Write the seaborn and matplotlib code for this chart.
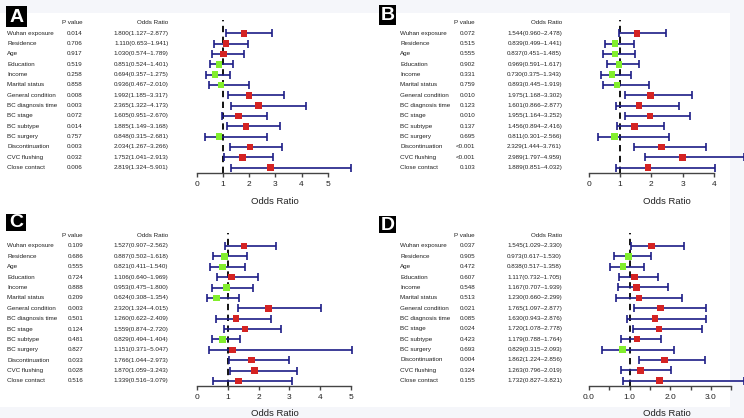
import numpy as np
import pandas as pd
import matplotlib
matplotlib.use("Agg")
import matplotlib.pyplot as plt
import seaborn as sns
from matplotlib.patches import Rectangle

sns.set_style("white")
plt.rcParams['font.family'] = ['Liberation Sans', 'DejaVu Sans']

variables = ["Wuhan exposure", "Residence", "Age", "Education", "Income",
             "Marital status", "General condition", "BC diagnosis time",
             "BC stage", "BC subtype", "BC surgery", "Discontinuation",
             "CVC flushing", "Close contact"]

# panel A
p_a = ["0.014", "0.706", "0.917", "0.519", "0.258", "0.858", "0.008",
       "0.003", "0.072", "0.014", "0.757", "0.003", "0.032", "0.006"]
or_a = [1.800, 1.110, 1.030, 0.851, 0.694, 0.936, 1.992, 2.365, 1.605, 1.885, 0.848, 2.034, 1.752, 2.819]
lo_a = [1.127, 0.653, 0.574, 0.524, 0.357, 0.467, 1.185, 1.322, 0.951, 1.149, 0.315, 1.267, 1.041, 1.324]
hi_a = [2.877, 1.941, 1.789, 1.401, 1.275, 2.010, 3.317, 4.173, 2.670, 3.168, 2.681, 3.266, 2.913, 5.901]

# panel B
p_b = ["0.072", "0.515", "0.555", "0.902", "0.331", "0.759", "0.010",
       "0.123", "0.010", "0.137", "0.695", "<0.001", "<0.001", "0.103"]
or_b = [1.544, 0.839, 0.837, 0.969, 0.730, 0.893, 1.975, 1.601, 1.955, 1.456, 0.811, 2.329, 2.989, 1.889]
lo_b = [0.960, 0.499, 0.451, 0.591, 0.375, 0.445, 1.168, 0.866, 1.164, 0.894, 0.301, 1.444, 1.797, 0.851]
hi_b = [2.478, 1.441, 1.485, 1.617, 1.343, 1.919, 3.302, 2.877, 3.252, 2.416, 2.566, 3.761, 4.959, 4.032]

# panel C
p_c = ["0.109", "0.686", "0.555", "0.724", "0.888", "0.209", "0.003",
       "0.501", "0.124", "0.481", "0.827", "0.033", "0.028", "0.516"]
or_c = [1.527, 0.887, 0.821, 1.106, 0.953, 0.624, 2.320, 1.260, 1.559, 0.829, 1.151, 1.766, 1.870, 1.339]
lo_c = [0.907, 0.502, 0.411, 0.640, 0.475, 0.308, 1.324, 0.622, 0.874, 0.494, 0.371, 1.044, 1.059, 0.516]
hi_c = [2.562, 1.618, 1.540, 1.969, 1.800, 1.354, 4.015, 2.409, 2.720, 1.404, 5.047, 2.973, 3.243, 3.079]

# panel D
p_d = ["0.037", "0.905", "0.472", "0.607", "0.548", "0.513", "0.021",
       "0.085", "0.024", "0.423", "0.693", "0.004", "0.324", "0.155"]
or_d = [1.545, 0.973, 0.838, 1.117, 1.167, 1.230, 1.765, 1.630, 1.720, 1.179, 0.829, 1.862, 1.263, 1.732]
lo_d = [1.029, 0.617, 0.517, 0.732, 0.707, 0.660, 1.097, 0.943, 1.078, 0.788, 0.315, 1.224, 0.796, 0.827]
hi_d = [2.330, 1.530, 1.358, 1.705, 1.939, 2.299, 2.877, 2.876, 2.778, 1.764, 2.093, 2.856, 2.019, 3.821]

NAVY = "#1d1d86"
RED = "#d42323"
GREEN = "#82ee2c"
TXT = "#222222"

W, H = 744, 418
fig = plt.figure(figsize=(W / 100, H / 100), dpi=100)
fig.patch.set_facecolor("#f5f6fa")
fig.patches.append(Rectangle((0, 1 - 407 / H), 730 / W, (407 - 13) / H,
                             transform=fig.transFigure, facecolor="white",
                             edgecolor="none", zorder=-10))


def fx(x):
    return x / W


def fy(y):
    return 1 - y / H


def panel(letter, box, name_x, p_right, or_right, head_y, row0, step,
          x0, unit, xmax, top_y, axis_y, xlab_x, xlab_y, ticks, ticklabels,
          pv, orv, lov, hiv):
    # letter box
    bx0, by0, bx1, by1 = box
    fig.patches.append(Rectangle((fx(bx0), fy(by1)), (bx1 - bx0) / W, (by1 - by0) / H,
                                 transform=fig.transFigure, facecolor="black",
                                 edgecolor="none"))
    fig.text(fx((bx0 + bx1) / 2), fy((by0 + by1) / 2 + 0.5), letter, color="white",
             fontsize=14, fontweight="bold", ha="center", va="center")
    fs = 4.5
    fig.text(fx(p_right), fy(head_y), "P value", fontsize=fs, ha="right", va="center", color=TXT)
    fig.text(fx(or_right), fy(head_y), "Odds Ratio", fontsize=fs, ha="right", va="center", color=TXT)
    for i, name in enumerate(variables):
        y = row0 + i * step
        fig.text(fx(name_x), fy(y), name, fontsize=fs, ha="left", va="center", color=TXT)
        fig.text(fx(p_right), fy(y), pv[i], fontsize=fs, ha="right", va="center", color=TXT)
        fig.text(fx(or_right), fy(y), "%.3f(%.3f\u2013%.3f)" % (orv[i], lov[i], hiv[i]),
                 fontsize=fs, ha="right", va="center", color=TXT)

    # forest
    ax = fig.add_axes([fx(x0), fy(axis_y), unit * xmax / W, (axis_y - top_y) / H])
    ax.set_facecolor("none")
    df = pd.DataFrame({"or": orv, "lo": lov, "hi": hiv, "row": np.arange(len(variables))})
    df["grp"] = np.where(df["or"] < 1, "low", "high")
    ylo = (axis_y - row0) / step
    yhi = (top_y - row0) / step
    ax.axvline(1, color="black", ls=(0, (3.5, 2.5)), lw=1.3, zorder=1)
    eb = ax.errorbar(df["or"], df["row"], xerr=[df["or"] - df["lo"], df["hi"] - df["or"]],
                     fmt="none", ecolor=NAVY, elinewidth=1.2, capsize=2.6, capthick=1.2, zorder=2)
    for art in list(eb.lines[1]) + list(eb.lines[2]):
        art.set_clip_on(False)
    sns.scatterplot(data=df, x="or", y="row", hue="grp", palette={"low": GREEN, "high": RED},
                    marker="s", s=22, linewidth=0, legend=False, zorder=3, ax=ax, clip_on=False)
    ax.set_xlim(0, xmax)
    ax.set_ylim(ylo, yhi)
    ax.set_yticks([])
    ax.set_ylabel("")
    ax.set_xlabel("")
    for s in ["left", "top", "right"]:
        ax.spines[s].set_visible(False)
    ax.spines["bottom"].set_bounds(0, xmax)
    ax.spines["bottom"].set_color("#444444")
    ax.spines["bottom"].set_linewidth(1.0)
    ax.set_xticks(ticks)
    ax.set_xticklabels(ticklabels)
    ax.tick_params(axis="x", direction="out", length=3, width=1.0, color="#444444",
                   labelsize=6, labelcolor=TXT, pad=2.5, bottom=True)
    fig.text(fx(xlab_x), fy(xlab_y), "Odds Ratio", fontsize=6.8,
             ha="center", va="center", color=TXT)
    return ax


panel("A", (6, 6.5, 27, 26.5), 7, 82.5, 168.5, 23, 33.3, 10.33,
      196.7, 26.2, 5, 20, 173.3, 274.7, 202,
      [0, 1, 2, 3, 4, 5], ["0", "1", "2", "3", "4", "5"],
      p_a, or_a, lo_a, hi_a)

panel("B", (379, 5, 395.5, 25), 400.3, 475, 562, 23, 33.3, 10.33,
      589, 31.2, 4, 20, 173.3, 666.7, 202,
      [0, 1, 2, 3, 4], ["0", "1", "2", "3", "4"],
      p_b, or_b, lo_b, hi_b)

panel("C", (6.5, 214, 26.5, 231), 7, 83, 168.5, 236, 246, 10.38,
      197.3, 30.7, 5, 233, 386, 275, 414,
      [0, 1, 2, 3, 4, 5], ["0", "1", "2", "3", "4", "5"],
      p_c, or_c, lo_c, hi_c)

panel("D", (379, 216, 395.5, 233), 400.3, 475, 562, 236, 246, 10.36,
      589, 40.6, 3.5, 233, 386, 666.7, 413,
      [0, 0.5, 1, 1.5, 2, 2.5, 3, 3.5], ["0.0", "", "1.0", "", "2.0", "", "3.0", ""],
      p_d, or_d, lo_d, hi_d)

fig.savefig("out.png", dpi=100, facecolor=fig.get_facecolor())
